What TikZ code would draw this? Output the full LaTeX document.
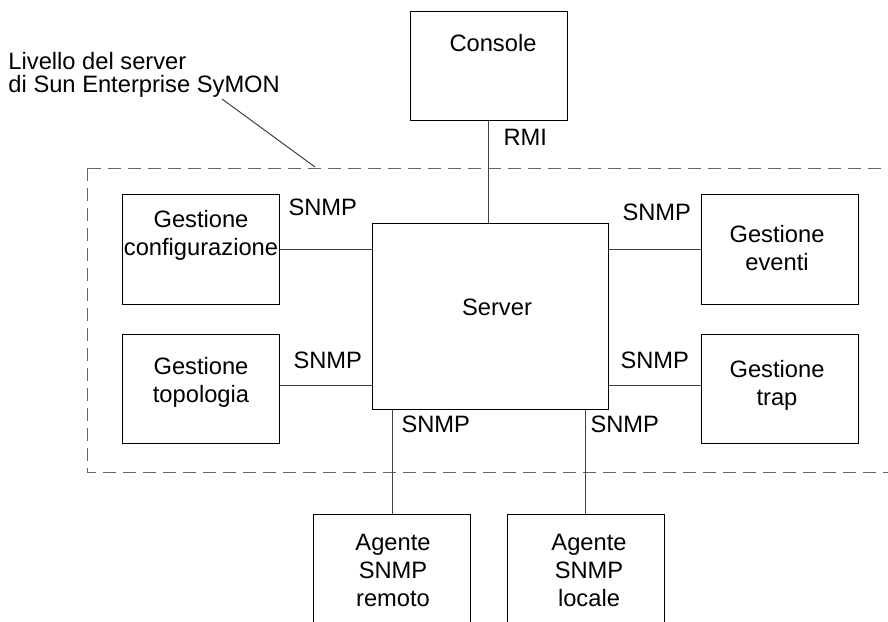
\documentclass[tikz,border=0pt]{standalone}
\usepackage{fontspec}
\setmainfont{Liberation Sans}
\usetikzlibrary{positioning}

\begin{document}
\begin{tikzpicture}[x=0.5pt, y=-0.5pt, line width=0.5pt,
    box/.style={draw, minimum width=78.5pt, minimum height=54.5pt, inner sep=0pt},
    txt/.style={align=center, inner sep=0pt, font=\fontsize{11.85}{14}\selectfont},
    lbl/.style={anchor=west, inner sep=0pt, font=\fontsize{11.85}{14}\selectfont},
    link/.style={draw=black!75},
    zone/.style={draw=black!60, dash pattern=on 6.5pt off 3.5pt}]
  \useasboundingbox (0,0) rectangle (888,621);
  \clip (0,0) rectangle (888,621);
  % livello del server
  \draw[zone] (87,168) rectangle (900,472);
  \node[txt, align=left, anchor=north west, font=\fontsize{11.85}{11.3}\selectfont] (lvl) at (8,52)
    {Livello del server\\di Sun Enterprise SyMON};
  \coordinate (lead-a) at (222,99);
  \coordinate (lead-b) at (315,167);
  \draw[link] (lead-a) -- (lead-b);

  % boxes
  \node[box] (con) at (488.5,65.5) {};
  \node[box, minimum width=118pt, minimum height=93pt] (srv) at (490,316) {};
  \node[box, minimum height=55pt] (cfg) at (200.5,249) {};
  \node[box] (topo) at (200.5,388.5) {};
  \node[box, minimum height=55pt] (evt) at (780,249) {};
  \node[box] (trp) at (780,388.5) {};
  \node[box, minimum height=63pt] (rem) at (392,577) {};
  \node[box, minimum height=63pt] (loc) at (585.5,577) {};

  \node[txt, anchor=north] (con-t) at (493,33.5) {Console};
  \node[txt] (srv-t) at (497,307) {Server};
  \node[txt, anchor=north] (cfg-t) at (201,209.5) {Gestione\\configurazione};
  \node[txt, anchor=north] (topo-t) at (201,356.5) {Gestione\\topologia};
  \node[txt, anchor=north] (evt-t) at (777,224.5) {Gestione\\eventi};
  \node[txt, anchor=north] (trp-t) at (777,359.5) {Gestione\\trap};
  \node[txt, anchor=north] (rem-t) at (393,533.5) {Agente\\SNMP\\remoto};
  \node[txt, anchor=north] (loc-t) at (589,533.5) {Agente\\SNMP\\locale};

  % connectors
  \draw[link] (con.south) -- (con.south |- srv.north);
  \draw[link] (cfg.east) -- (cfg.east -| srv.west);
  \draw[link] (evt.west) -- (evt.west -| srv.east);
  \draw[link] (topo.east |- 0,385) -- (srv.west |- 0,385);
  \draw[link] (trp.west |- 0,385) -- (srv.east |- 0,385);
  \draw[link] (rem.north) -- (rem.north |- srv.south);
  \draw[link] (loc.north) -- (loc.north |- srv.south);

  \node[lbl] (rmi) at (503,137) {RMI};
  \node[lbl] (snmp-cfg) at (288,207) {SNMP};
  \node[lbl] (snmp-topo) at (293,360) {SNMP};
  \node[lbl] (snmp-evt) at (622,212) {SNMP};
  \node[lbl] (snmp-trp) at (620,360) {SNMP};
  \node[lbl] (snmp-rem) at (401,424) {SNMP};
  \node[lbl] (snmp-loc) at (590,424) {SNMP};
\end{tikzpicture}
\end{document}
